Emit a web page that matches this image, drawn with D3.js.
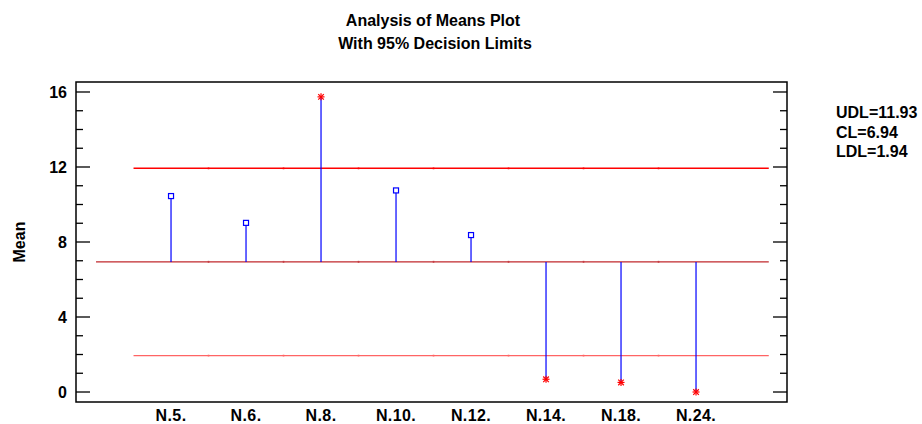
<!DOCTYPE html>
<html>
  <head>
    <meta charset="utf-8" />
    <title>Analysis of Means Plot</title>
    <script src="https://d3js.org/d3.v7.min.js"></script>
    <style>
      body { margin: 0; background: #fff; }
      text { font-family: 'Liberation Sans', Arial, sans-serif; font-weight: bold; fill: #000; font-size: 16px; }
    </style>
  </head>
  <body>
    <div id="chart"></div>
    <script>
      // data
      const categories = ['N.5.', 'N.6.', 'N.8.', 'N.10.', 'N.12.', 'N.14.', 'N.18.', 'N.24.'];
      const means = [10.45, 9.02, 15.74, 10.75, 8.37, 0.68, 0.51, 0.0];
      const limitNames = ['UDL', 'CL', 'LDL'];
      const limitValues = [11.93, 6.94, 1.94];
      const yTicks = [0, 4, 8, 12, 16];

      const width = 922;
      const height = 424;
      const plot = { left: 76, right: 787, top: 82, bottom: 402 };

      const svg = d3.select('#chart').append('svg')
        .attr('width', width)
        .attr('height', height);

      const x = d3.scaleLinear().domain([-1.267, 8.213]).range([plot.left, plot.right]);
      const y = d3.scaleLinear().domain([-0.533, 16.533]).range([plot.bottom, plot.top]);

      const udl = limitValues[0], cl = limitValues[1], ldl = limitValues[2];

      // titles
      svg.append('text').attr('x', 433).attr('y', 26).attr('text-anchor', 'middle')
        .text('Analysis of Means Plot');
      svg.append('text').attr('x', 435).attr('y', 49).attr('text-anchor', 'middle')
        .text('With 95% Decision Limits');

      // limit lines (segments joined at category midpoints, small joint marks)
      const segs = d3.range(0.5, 7.5, 1);
      function limitLine(v, start, color) {
        const g = svg.append('g');
        g.append('line')
          .attr('x1', x(start)).attr('x2', x(7.97))
          .attr('y1', y(v)).attr('y2', y(v))
          .attr('stroke', color).attr('stroke-width', 1.4);
        g.selectAll('rect')
          .data(segs)
          .join('rect')
          .attr('x', (d) => x(d) - 0.8).attr('y', y(v) - 1.1)
          .attr('width', 1.6).attr('height', 2.2)
          .attr('fill', color).attr('opacity', 0.6);
      }
      limitLine(udl, -0.5, '#ff0000');
      limitLine(ldl, -0.5, '#ff6464');
      limitLine(cl, -1, '#c0282d');

      // stems
      svg.append('g').selectAll('line')
        .data(means)
        .join('line')
        .attr('x1', (d, i) => x(i)).attr('x2', (d, i) => x(i))
        .attr('y1', y(cl)).attr('y2', (d) => y(d))
        .attr('stroke', '#0000ff').attr('stroke-width', 1.2);

      // markers
      const marks = svg.append('g').selectAll('g')
        .data(means)
        .join('g')
        .attr('transform', (d, i) => `translate(${x(i)},${y(d)})`);

      marks.filter((d) => d <= udl && d >= ldl)
        .append('rect')
        .attr('x', -2.5).attr('y', -2.5).attr('width', 5).attr('height', 5)
        .attr('fill', '#fff').attr('stroke', '#0000ff').attr('stroke-width', 1.2);

      const star = marks.filter((d) => d > udl || d < ldl);
      [[-3.5, 0, 3.5, 0], [0, -3.5, 0, 3.5], [-2.8, -2.8, 2.8, 2.8], [-2.8, 2.8, 2.8, -2.8]].forEach((s) => {
        star.append('line')
          .attr('x1', s[0]).attr('y1', s[1]).attr('x2', s[2]).attr('y2', s[3])
          .attr('stroke', '#ff0000').attr('stroke-width', 1.2);
      });

      // frame
      svg.append('rect')
        .attr('x', plot.left).attr('y', plot.top)
        .attr('width', plot.right - plot.left).attr('height', plot.bottom - plot.top)
        .attr('fill', 'none').attr('stroke', '#000').attr('stroke-width', 1.5);

      // y ticks (inside, both sides)
      const minor = d3.range(0, 17, 1);
      const tickG = svg.append('g').attr('stroke', '#000').attr('stroke-width', 1.3);
      minor.forEach((v) => {
        const len = yTicks.includes(v) ? 14 : 7;
        tickG.append('line').attr('x1', plot.left).attr('x2', plot.left + len)
          .attr('y1', y(v)).attr('y2', y(v));
        tickG.append('line').attr('x1', plot.right).attr('x2', plot.right - len)
          .attr('y1', y(v)).attr('y2', y(v));
      });

      svg.append('g').selectAll('text')
        .data(yTicks)
        .join('text')
        .attr('x', 67).attr('y', (d) => y(d)).attr('dy', '0.36em')
        .attr('text-anchor', 'end')
        .text((d) => d);

      // x labels
      svg.append('g').selectAll('text')
        .data(categories)
        .join('text')
        .attr('x', (d, i) => x(i)).attr('y', 421)
        .attr('text-anchor', 'middle')
        .style('letter-spacing', '0.4px')
        .text((d) => d);

      // y axis title
      svg.append('text')
        .attr('transform', `translate(25,${(plot.top + plot.bottom) / 2}) rotate(-90)`)
        .attr('text-anchor', 'middle')
        .text('Mean');

      // legend
      svg.append('g').selectAll('text')
        .data(limitNames)
        .join('text')
        .attr('x', 836).attr('y', (d, i) => 118 + i * 19.7)
        .text((d, i) => `${d}=${limitValues[i]}`);
    </script>
  </body>
</html>
